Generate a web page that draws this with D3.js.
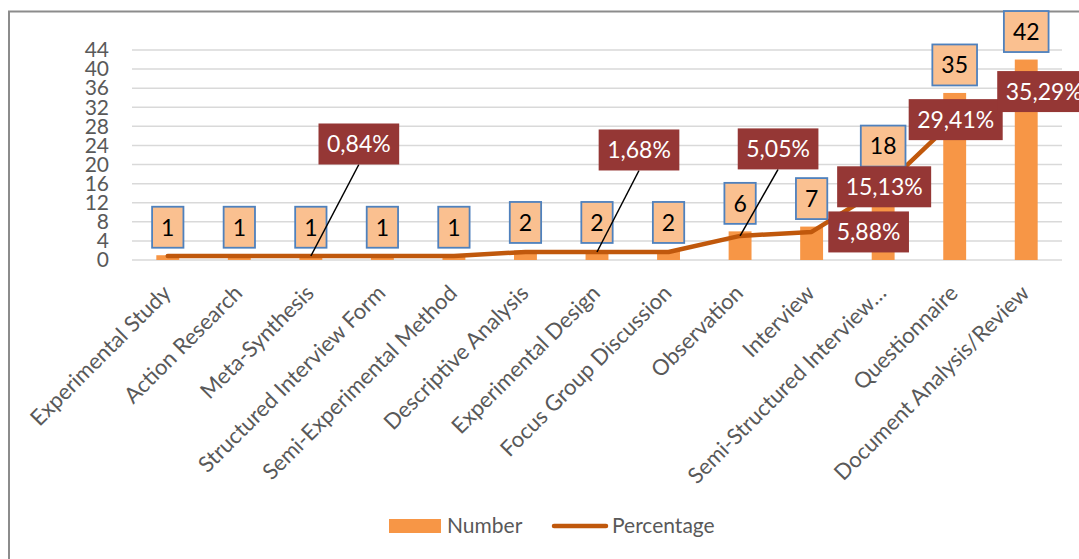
<!DOCTYPE html>
<html>
<head>
<meta charset="utf-8">
<script src="https://cdn.jsdelivr.net/npm/d3@7/dist/d3.min.js"></script>
<style>
  html, body { margin: 0; padding: 0; background: #fff; }
  svg { display: block; font-family: Lato, "Noto Sans", sans-serif; }
</style>
</head>
<body>
<svg id="chart" width="1079" height="559"></svg>
<script>
// Research methods used in the reviewed studies
const categories = [
  "Experimental Study", "Action Research", "Meta-Synthesis", "Structured Interview Form",
  "Semi-Experimental Method", "Descriptive Analysis", "Experimental Design",
  "Focus Group Discussion", "Observation", "Interview", "Semi-Structured Interview…",
  "Questionnaire", "Document Analysis/Review"
];
const counts = [1, 1, 1, 1, 1, 2, 2, 2, 6, 7, 18, 35, 42];
const percentages = [0.84, 0.84, 0.84, 0.84, 0.84, 1.68, 1.68, 1.68, 5.05, 5.88, 15.13, 29.41, 35.29];
const yTicks = [0, 4, 8, 12, 16, 20, 24, 28, 32, 36, 40, 44];
const seriesNames = ["Number", "Percentage"];

// Which percentage labels are shown, and where each callout sits relative to its point
const pctLabelIndex = [2, 6, 8, 9, 10, 11, 12];
const pctLabelShift = [[48, -112], [42, -102], [38, -87], [57, 0], [1, -1], [1, 0], [18, 0]];
const pctLabelLeader = [true, true, true, false, false, false, false];

const colors = {
  bar: "#F79646",
  line: "#C0580C",
  countFill: "#FAC090",
  countStroke: "#4F81BD",
  pctFill: "#953735",
  grid: "#D9D9D9",
  text: "#595959",
  frame: "#8C8C8C"
};

const svg = d3.select("#chart");
const plot = { left: 132, right: 1062, top: 50, bottom: 260 };

const x = d3.scaleBand().domain(categories).range([plot.left, plot.right]).padding(0);
const y = d3.scaleLinear().domain([0, 44]).range([plot.bottom, plot.top]);
const cx = (c) => x(c) + x.bandwidth() / 2;
const barW = x.bandwidth() * 0.32;

// Outer frame (left and top edges visible)
svg.append("rect")
  .attr("x", 9).attr("y", 11.5)
  .attr("width", 1200).attr("height", 700)
  .attr("fill", "none")
  .attr("stroke", colors.frame)
  .attr("stroke-width", 2);

// Gridlines
svg.append("g")
  .selectAll("line")
  .data(yTicks)
  .join("line")
  .attr("x1", plot.left).attr("x2", plot.right)
  .attr("y1", d => y(d)).attr("y2", d => y(d))
  .attr("stroke", colors.grid)
  .attr("stroke-width", 1.5);

// Y axis
const yAxis = svg.append("g")
  .attr("transform", `translate(${plot.left},0)`)
  .call(d3.axisLeft(y).tickValues(yTicks).tickSize(0).tickPadding(23));
yAxis.select(".domain").remove();
yAxis.selectAll("text")
  .attr("fill", colors.text)
  .style("font-size", "21px")
  .style("font-family", "Lato, sans-serif");

// X axis with rotated category names
const xAxis = svg.append("g")
  .attr("transform", `translate(0,${plot.bottom})`)
  .call(d3.axisBottom(x).tickSize(0));
xAxis.select(".domain").remove();
xAxis.selectAll(".tick text")
  .attr("fill", colors.text)
  .style("font-size", "22px")
  .style("font-family", "Lato, sans-serif")
  .attr("text-anchor", "end")
  .attr("y", 0)
  .attr("dy", "0.35em")
  .attr("transform", "translate(-1,29) rotate(-45)");

// Bars
svg.append("g")
  .selectAll("rect")
  .data(counts)
  .join("rect")
  .attr("x", (d, i) => cx(categories[i]) - barW / 2)
  .attr("y", d => y(d))
  .attr("width", barW)
  .attr("height", d => y(0) - y(d))
  .attr("fill", colors.bar);

// Percentage line
const line = d3.line()
  .x((d, i) => cx(categories[i]))
  .y(d => y(d));
svg.append("path")
  .datum(percentages)
  .attr("d", line)
  .attr("fill", "none")
  .attr("stroke", colors.line)
  .attr("stroke-width", 4.5)
  .attr("stroke-linejoin", "round")
  .attr("stroke-linecap", "round");

// Count labels above bars
const countG = svg.append("g")
  .selectAll("g")
  .data(counts)
  .join("g")
  .attr("transform", (d, i) => `translate(${cx(categories[i])},${y(d) - 7.5 - 20.5})`);
countG.append("rect").attr("class", "box");
countG.append("text")
  .text(d => d)
  .attr("text-anchor", "middle")
  .attr("dy", "0.36em")
  .attr("fill", "#000")
  .style("font-size", "23px");
countG.each(function () {
  const g = d3.select(this);
  const w = g.select("text").node().getComputedTextLength() + 18;
  g.select("rect")
    .attr("x", -w / 2).attr("y", -20.5)
    .attr("width", w).attr("height", 41)
    .attr("fill", colors.countFill)
    .attr("stroke", colors.countStroke)
    .attr("stroke-width", 1.8);
});

// Percentage callouts
const fmtPct = (v) => v.toFixed(2).replace(".", ",") + "%";
const pctData = pctLabelIndex.map((idx, k) => ({
  px: cx(categories[idx]),
  py: y(percentages[idx]),
  dx: pctLabelShift[k][0],
  dy: pctLabelShift[k][1],
  leader: pctLabelLeader[k],
  label: fmtPct(percentages[idx])
}));

svg.append("g")
  .selectAll("line")
  .data(pctData.filter(d => d.leader))
  .join("line")
  .attr("x1", d => d.px).attr("y1", d => d.py)
  .attr("x2", d => d.px + d.dx).attr("y2", d => d.py + d.dy + 20.5)
  .attr("stroke", "#000")
  .attr("stroke-width", 1.5);

const pctG = svg.append("g")
  .selectAll("g")
  .data(pctData)
  .join("g")
  .attr("transform", d => `translate(${d.px + d.dx},${d.py + d.dy})`);
pctG.append("rect");
pctG.append("text")
  .text(d => d.label)
  .attr("text-anchor", "middle")
  .attr("dy", "0.36em")
  .attr("fill", "#fff")
  .style("font-size", "23px");
pctG.each(function () {
  const g = d3.select(this);
  const w = g.select("text").node().getComputedTextLength() + 17;
  g.select("rect")
    .attr("x", -w / 2).attr("y", -20.5)
    .attr("width", w).attr("height", 41)
    .attr("fill", colors.pctFill);
});

// Legend
const legend = svg.append("g").attr("transform", "translate(389,526)");
legend.append("rect")
  .attr("x", 0).attr("y", -7).attr("width", 52).attr("height", 14)
  .attr("fill", colors.bar);
legend.append("text")
  .attr("x", 58).attr("y", 0).attr("dy", "0.35em")
  .attr("fill", colors.text).style("font-size", "21px")
  .text(seriesNames[0]);
legend.append("line")
  .attr("x1", 165).attr("x2", 217).attr("y1", 0).attr("y2", 0)
  .attr("stroke", colors.line).attr("stroke-width", 4.5)
  .attr("stroke-linecap", "round");
legend.append("text")
  .attr("x", 223).attr("y", 0).attr("dy", "0.35em")
  .attr("fill", colors.text).style("font-size", "21px")
  .text(seriesNames[1]);
</script>
</body>
</html>
